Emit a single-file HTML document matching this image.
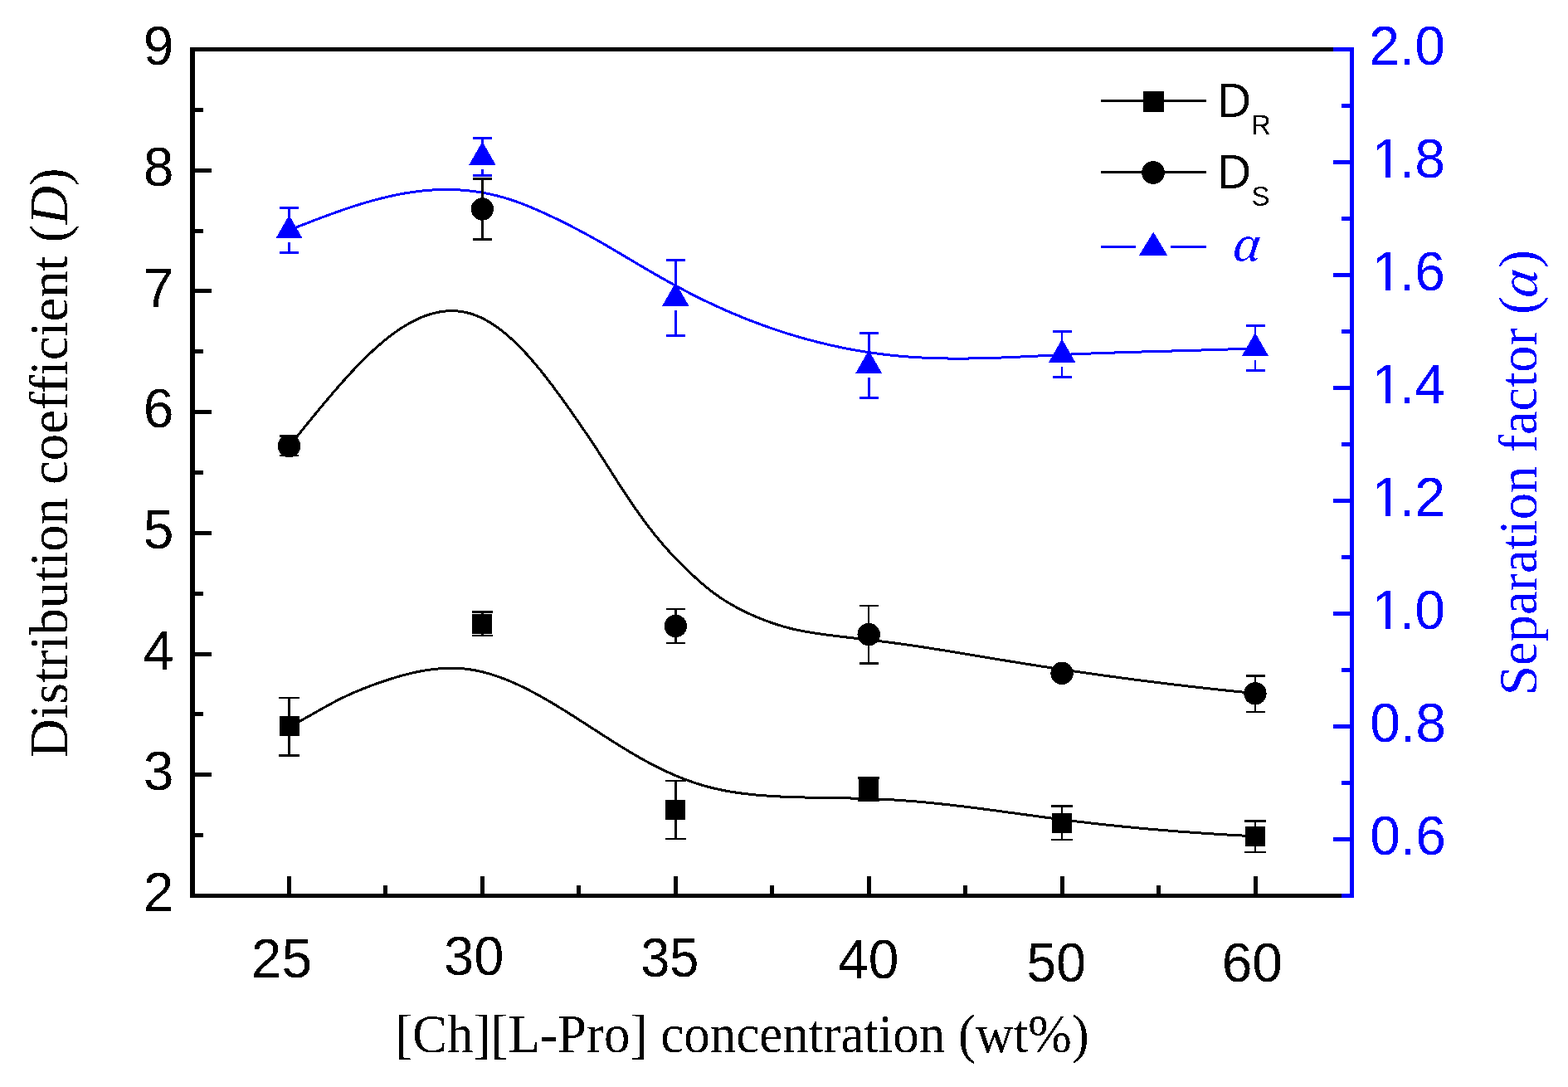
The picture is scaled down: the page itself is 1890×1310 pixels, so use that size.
<!DOCTYPE html>
<html><head><meta charset="utf-8"><title>Distribution coefficient chart</title>
<style>html,body{margin:0;padding:0;background:#fff;}svg{display:block;}</style>
</head><body>
<svg width="1890" height="1310" viewBox="0 0 1890 1310" shape-rendering="crispEdges">
<rect width="1890" height="1310" fill="#fff"/>
<defs><filter id="bin" x="-5%" y="-5%" width="110%" height="110%" color-interpolation-filters="sRGB"><feComponentTransfer><feFuncA type="discrete" tableValues="0 1"/></feComponentTransfer></filter></defs>
<path d="M348.5 875.71 L351.5 874.22 L354.5 872.70 L357.5 871.14 L360.5 869.55 L363.5 867.93 L366.5 866.29 L369.5 864.63 L372.5 862.95 L375.5 861.26 L378.5 859.56 L381.5 857.86 L384.5 856.16 L387.5 854.47 L390.5 852.79 L393.5 851.12 L396.5 849.47 L399.5 847.84 L402.5 846.24 L405.5 844.67 L408.5 843.14 L411.5 841.65 L414.5 840.19 L417.5 838.76 L420.5 837.37 L423.5 836.02 L426.5 834.70 L429.5 833.41 L432.5 832.14 L435.5 830.91 L438.5 829.71 L441.5 828.53 L444.5 827.38 L447.5 826.25 L450.5 825.15 L453.5 824.07 L456.5 823.01 L459.5 821.98 L462.5 820.96 L465.5 819.96 L468.5 818.99 L471.5 818.03 L474.5 817.10 L477.5 816.20 L480.5 815.33 L483.5 814.48 L486.5 813.66 L489.5 812.87 L492.5 812.11 L495.5 811.38 L498.5 810.69 L501.5 810.04 L504.5 809.42 L507.5 808.84 L510.5 808.29 L513.5 807.79 L516.5 807.33 L519.5 806.91 L522.5 806.53 L525.5 806.20 L528.5 805.92 L531.5 805.68 L534.5 805.49 L537.5 805.36 L540.5 805.27 L543.5 805.24 L546.5 805.25 L549.5 805.33 L552.5 805.46 L555.5 805.65 L558.5 805.89 L561.5 806.20 L564.5 806.57 L567.5 806.99 L570.5 807.48 L573.5 808.03 L576.5 808.64 L579.5 809.30 L582.5 810.03 L585.5 810.80 L588.5 811.63 L591.5 812.51 L594.5 813.44 L597.5 814.42 L600.5 815.45 L603.5 816.53 L606.5 817.65 L609.5 818.82 L612.5 820.03 L615.5 821.29 L618.5 822.58 L621.5 823.91 L624.5 825.29 L627.5 826.69 L630.5 828.14 L633.5 829.62 L636.5 831.13 L639.5 832.68 L642.5 834.25 L645.5 835.86 L648.5 837.49 L651.5 839.15 L654.5 840.84 L657.5 842.55 L660.5 844.28 L663.5 846.04 L666.5 847.82 L669.5 849.61 L672.5 851.43 L675.5 853.26 L678.5 855.11 L681.5 856.97 L684.5 858.84 L687.5 860.73 L690.5 862.63 L693.5 864.54 L696.5 866.45 L699.5 868.37 L702.5 870.30 L705.5 872.23 L708.5 874.17 L711.5 876.11 L714.5 878.05 L717.5 879.99 L720.5 881.92 L723.5 883.85 L726.5 885.78 L729.5 887.71 L732.5 889.62 L735.5 891.53 L738.5 893.43 L741.5 895.32 L744.5 897.19 L747.5 899.06 L750.5 900.90 L753.5 902.74 L756.5 904.55 L759.5 906.35 L762.5 908.13 L765.5 909.89 L768.5 911.62 L771.5 913.34 L774.5 915.03 L777.5 916.69 L780.5 918.32 L783.5 919.93 L786.5 921.51 L789.5 923.06 L792.5 924.57 L795.5 926.06 L798.5 927.52 L801.5 928.94 L804.5 930.33 L807.5 931.70 L810.5 933.02 L813.5 934.32 L816.5 935.58 L819.5 936.81 L822.5 938.00 L825.5 939.16 L828.5 940.28 L831.5 941.37 L834.5 942.42 L837.5 943.44 L840.5 944.42 L843.5 945.37 L846.5 946.27 L849.5 947.14 L852.5 947.97 L855.5 948.77 L858.5 949.53 L861.5 950.25 L864.5 950.93 L867.5 951.59 L870.5 952.21 L873.5 952.80 L876.5 953.36 L879.5 953.89 L882.5 954.39 L885.5 954.87 L888.5 955.32 L891.5 955.74 L894.5 956.14 L897.5 956.52 L900.5 956.88 L903.5 957.22 L906.5 957.53 L909.5 957.83 L912.5 958.11 L915.5 958.38 L918.5 958.62 L921.5 958.86 L924.5 959.07 L927.5 959.28 L930.5 959.46 L933.5 959.64 L936.5 959.80 L939.5 959.96 L942.5 960.10 L945.5 960.23 L948.5 960.35 L951.5 960.46 L954.5 960.57 L957.5 960.67 L960.5 960.76 L963.5 960.85 L966.5 960.93 L969.5 961.00 L972.5 961.07 L975.5 961.14 L978.5 961.20 L981.5 961.26 L984.5 961.32 L987.5 961.37 L990.5 961.42 L993.5 961.47 L996.5 961.52 L999.5 961.56 L1002.5 961.61 L1005.5 961.66 L1008.5 961.71 L1011.5 961.76 L1014.5 961.81 L1017.5 961.86 L1020.5 961.91 L1023.5 961.97 L1026.5 962.03 L1029.5 962.10 L1032.5 962.16 L1035.5 962.24 L1038.5 962.31 L1041.5 962.40 L1044.5 962.49 L1047.5 962.58 L1050.5 962.69 L1053.5 962.80 L1056.5 962.91 L1059.5 963.04 L1062.5 963.17 L1065.5 963.32 L1068.5 963.47 L1071.5 963.63 L1074.5 963.80 L1077.5 963.98 L1080.5 964.17 L1083.5 964.37 L1086.5 964.58 L1089.5 964.79 L1092.5 965.02 L1095.5 965.25 L1098.5 965.48 L1101.5 965.73 L1104.5 965.98 L1107.5 966.25 L1110.5 966.51 L1113.5 966.79 L1116.5 967.07 L1119.5 967.36 L1122.5 967.65 L1125.5 967.95 L1128.5 968.26 L1131.5 968.57 L1134.5 968.89 L1137.5 969.22 L1140.5 969.55 L1143.5 969.88 L1146.5 970.22 L1149.5 970.56 L1152.5 970.91 L1155.5 971.27 L1158.5 971.63 L1161.5 971.99 L1164.5 972.35 L1167.5 972.72 L1170.5 973.10 L1173.5 973.47 L1176.5 973.85 L1179.5 974.24 L1182.5 974.62 L1185.5 975.01 L1188.5 975.41 L1191.5 975.80 L1194.5 976.20 L1197.5 976.59 L1200.5 976.99 L1203.5 977.40 L1206.5 977.80 L1209.5 978.20 L1212.5 978.61 L1215.5 979.02 L1218.5 979.43 L1221.5 979.84 L1224.5 980.24 L1227.5 980.65 L1230.5 981.06 L1233.5 981.47 L1236.5 981.88 L1239.5 982.29 L1242.5 982.70 L1245.5 983.11 L1248.5 983.52 L1251.5 983.92 L1254.5 984.33 L1257.5 984.73 L1260.5 985.13 L1263.5 985.53 L1266.5 985.93 L1269.5 986.33 L1272.5 986.72 L1275.5 987.11 L1278.5 987.50 L1281.5 987.89 L1284.5 988.27 L1287.5 988.65 L1290.5 989.02 L1293.5 989.40 L1296.5 989.77 L1299.5 990.13 L1302.5 990.49 L1305.5 990.85 L1308.5 991.21 L1311.5 991.56 L1314.5 991.91 L1317.5 992.25 L1320.5 992.59 L1323.5 992.93 L1326.5 993.26 L1329.5 993.59 L1332.5 993.92 L1335.5 994.24 L1338.5 994.56 L1341.5 994.88 L1344.5 995.19 L1347.5 995.50 L1350.5 995.80 L1353.5 996.11 L1356.5 996.41 L1359.5 996.70 L1362.5 996.99 L1365.5 997.28 L1368.5 997.57 L1371.5 997.85 L1374.5 998.13 L1377.5 998.41 L1380.5 998.68 L1383.5 998.95 L1386.5 999.22 L1389.5 999.48 L1392.5 999.74 L1395.5 1000.00 L1398.5 1000.25 L1401.5 1000.50 L1404.5 1000.75 L1407.5 1001.00 L1410.5 1001.24 L1413.5 1001.48 L1416.5 1001.72 L1419.5 1001.95 L1422.5 1002.18 L1425.5 1002.41 L1428.5 1002.63 L1431.5 1002.85 L1434.5 1003.07 L1437.5 1003.29 L1440.5 1003.50 L1443.5 1003.71 L1446.5 1003.92 L1449.5 1004.12 L1452.5 1004.32 L1455.5 1004.52 L1458.5 1004.72 L1461.5 1004.91 L1464.5 1005.11 L1467.5 1005.29 L1470.5 1005.48 L1473.5 1005.66 L1476.5 1005.84 L1479.5 1006.02 L1482.5 1006.20 L1485.5 1006.37 L1488.5 1006.54 L1491.5 1006.71 L1494.5 1006.87 L1497.5 1007.04 L1500.5 1007.20 L1503.5 1007.36 L1506.5 1007.51 L1509.5 1007.67 L1512.5 1007.82 L1513.0 1007.84" fill="none" stroke="#000" stroke-width="3.0" stroke-linejoin="round" shape-rendering="crispEdges"/>
<path d="M348.5 537.78 L351.5 534.08 L354.5 530.38 L357.5 526.68 L360.5 522.97 L363.5 519.27 L366.5 515.57 L369.5 511.87 L372.5 508.19 L375.5 504.51 L378.5 500.84 L381.5 497.19 L384.5 493.56 L387.5 489.94 L390.5 486.34 L393.5 482.76 L396.5 479.21 L399.5 475.68 L402.5 472.18 L405.5 468.71 L408.5 465.28 L411.5 461.87 L414.5 458.51 L417.5 455.18 L420.5 451.89 L423.5 448.64 L426.5 445.44 L429.5 442.28 L432.5 439.17 L435.5 436.11 L438.5 433.10 L441.5 430.15 L444.5 427.25 L447.5 424.42 L450.5 421.64 L453.5 418.92 L456.5 416.27 L459.5 413.68 L462.5 411.17 L465.5 408.72 L468.5 406.34 L471.5 404.04 L474.5 401.81 L477.5 399.66 L480.5 397.59 L483.5 395.59 L486.5 393.68 L489.5 391.84 L492.5 390.09 L495.5 388.43 L498.5 386.85 L501.5 385.36 L504.5 383.97 L507.5 382.66 L510.5 381.44 L513.5 380.32 L516.5 379.30 L519.5 378.37 L522.5 377.54 L525.5 376.82 L528.5 376.19 L531.5 375.67 L534.5 375.25 L537.5 374.95 L540.5 374.74 L543.5 374.65 L546.5 374.67 L549.5 374.81 L552.5 375.05 L555.5 375.42 L558.5 375.90 L561.5 376.50 L564.5 377.22 L567.5 378.06 L570.5 379.02 L573.5 380.11 L576.5 381.33 L579.5 382.66 L582.5 384.12 L585.5 385.69 L588.5 387.38 L591.5 389.18 L594.5 391.10 L597.5 393.12 L600.5 395.26 L603.5 397.50 L606.5 399.85 L609.5 402.29 L612.5 404.85 L615.5 407.50 L618.5 410.24 L621.5 413.09 L624.5 416.03 L627.5 419.06 L630.5 422.18 L633.5 425.39 L636.5 428.69 L639.5 432.06 L642.5 435.52 L645.5 439.06 L648.5 442.66 L651.5 446.34 L654.5 450.08 L657.5 453.88 L660.5 457.75 L663.5 461.67 L666.5 465.64 L669.5 469.67 L672.5 473.74 L675.5 477.85 L678.5 482.00 L681.5 486.19 L684.5 490.42 L687.5 494.67 L690.5 498.95 L693.5 503.25 L696.5 507.58 L699.5 511.92 L702.5 516.30 L705.5 520.70 L708.5 525.13 L711.5 529.60 L714.5 534.10 L717.5 538.64 L720.5 543.21 L723.5 547.83 L726.5 552.49 L729.5 557.17 L732.5 561.89 L735.5 566.61 L738.5 571.33 L741.5 576.04 L744.5 580.73 L747.5 585.40 L750.5 590.02 L753.5 594.59 L756.5 599.11 L759.5 603.57 L762.5 607.98 L765.5 612.32 L768.5 616.60 L771.5 620.82 L774.5 624.97 L777.5 629.06 L780.5 633.07 L783.5 637.00 L786.5 640.86 L789.5 644.65 L792.5 648.35 L795.5 651.97 L798.5 655.50 L801.5 658.95 L804.5 662.32 L807.5 665.62 L810.5 668.85 L813.5 672.02 L816.5 675.13 L819.5 678.18 L822.5 681.18 L825.5 684.14 L828.5 687.06 L831.5 689.93 L834.5 692.76 L837.5 695.54 L840.5 698.26 L843.5 700.93 L846.5 703.53 L849.5 706.07 L852.5 708.54 L855.5 710.93 L858.5 713.24 L861.5 715.47 L864.5 717.62 L867.5 719.70 L870.5 721.71 L873.5 723.64 L876.5 725.51 L879.5 727.32 L882.5 729.07 L885.5 730.76 L888.5 732.39 L891.5 733.97 L894.5 735.50 L897.5 736.99 L900.5 738.43 L903.5 739.82 L906.5 741.18 L909.5 742.49 L912.5 743.77 L915.5 745.01 L918.5 746.22 L921.5 747.39 L924.5 748.52 L927.5 749.61 L930.5 750.67 L933.5 751.69 L936.5 752.67 L939.5 753.61 L942.5 754.52 L945.5 755.38 L948.5 756.21 L951.5 756.99 L954.5 757.74 L957.5 758.45 L960.5 759.12 L963.5 759.75 L966.5 760.35 L969.5 760.92 L972.5 761.46 L975.5 761.98 L978.5 762.47 L981.5 762.95 L984.5 763.40 L987.5 763.83 L990.5 764.26 L993.5 764.67 L996.5 765.06 L999.5 765.46 L1002.5 765.84 L1005.5 766.22 L1008.5 766.59 L1011.5 766.95 L1014.5 767.31 L1017.5 767.67 L1020.5 768.02 L1023.5 768.37 L1026.5 768.72 L1029.5 769.06 L1032.5 769.41 L1035.5 769.75 L1038.5 770.09 L1041.5 770.44 L1044.5 770.79 L1047.5 771.13 L1050.5 771.48 L1053.5 771.84 L1056.5 772.20 L1059.5 772.56 L1062.5 772.93 L1065.5 773.30 L1068.5 773.68 L1071.5 774.07 L1074.5 774.46 L1077.5 774.86 L1080.5 775.26 L1083.5 775.67 L1086.5 776.09 L1089.5 776.51 L1092.5 776.93 L1095.5 777.36 L1098.5 777.80 L1101.5 778.24 L1104.5 778.68 L1107.5 779.13 L1110.5 779.58 L1113.5 780.03 L1116.5 780.49 L1119.5 780.95 L1122.5 781.42 L1125.5 781.89 L1128.5 782.36 L1131.5 782.84 L1134.5 783.32 L1137.5 783.80 L1140.5 784.28 L1143.5 784.76 L1146.5 785.25 L1149.5 785.74 L1152.5 786.23 L1155.5 786.72 L1158.5 787.22 L1161.5 787.71 L1164.5 788.21 L1167.5 788.71 L1170.5 789.21 L1173.5 789.71 L1176.5 790.21 L1179.5 790.71 L1182.5 791.21 L1185.5 791.71 L1188.5 792.21 L1191.5 792.71 L1194.5 793.21 L1197.5 793.71 L1200.5 794.20 L1203.5 794.70 L1206.5 795.20 L1209.5 795.69 L1212.5 796.18 L1215.5 796.68 L1218.5 797.17 L1221.5 797.65 L1224.5 798.14 L1227.5 798.62 L1230.5 799.11 L1233.5 799.59 L1236.5 800.07 L1239.5 800.54 L1242.5 801.02 L1245.5 801.49 L1248.5 801.96 L1251.5 802.43 L1254.5 802.89 L1257.5 803.36 L1260.5 803.82 L1263.5 804.28 L1266.5 804.74 L1269.5 805.20 L1272.5 805.65 L1275.5 806.10 L1278.5 806.55 L1281.5 807.00 L1284.5 807.45 L1287.5 807.90 L1290.5 808.34 L1293.5 808.78 L1296.5 809.22 L1299.5 809.65 L1302.5 810.09 L1305.5 810.52 L1308.5 810.95 L1311.5 811.38 L1314.5 811.81 L1317.5 812.23 L1320.5 812.66 L1323.5 813.08 L1326.5 813.50 L1329.5 813.91 L1332.5 814.33 L1335.5 814.74 L1338.5 815.15 L1341.5 815.56 L1344.5 815.97 L1347.5 816.38 L1350.5 816.78 L1353.5 817.18 L1356.5 817.58 L1359.5 817.98 L1362.5 818.37 L1365.5 818.76 L1368.5 819.16 L1371.5 819.55 L1374.5 819.93 L1377.5 820.32 L1380.5 820.70 L1383.5 821.08 L1386.5 821.46 L1389.5 821.84 L1392.5 822.21 L1395.5 822.59 L1398.5 822.96 L1401.5 823.33 L1404.5 823.70 L1407.5 824.06 L1410.5 824.42 L1413.5 824.79 L1416.5 825.15 L1419.5 825.50 L1422.5 825.86 L1425.5 826.21 L1428.5 826.56 L1431.5 826.91 L1434.5 827.26 L1437.5 827.61 L1440.5 827.95 L1443.5 828.29 L1446.5 828.63 L1449.5 828.97 L1452.5 829.30 L1455.5 829.64 L1458.5 829.97 L1461.5 830.30 L1464.5 830.62 L1467.5 830.95 L1470.5 831.27 L1473.5 831.59 L1476.5 831.91 L1479.5 832.23 L1482.5 832.55 L1485.5 832.86 L1488.5 833.17 L1491.5 833.48 L1494.5 833.79 L1497.5 834.09 L1500.5 834.39 L1503.5 834.70 L1506.5 835.00 L1509.5 835.29 L1512.5 835.59 L1513.0 835.64" fill="none" stroke="#000" stroke-width="3.0" stroke-linejoin="round" shape-rendering="crispEdges"/>
<path d="M348.5 277.41 L351.5 276.22 L354.5 275.03 L357.5 273.85 L360.5 272.67 L363.5 271.49 L366.5 270.31 L369.5 269.14 L372.5 267.98 L375.5 266.82 L378.5 265.67 L381.5 264.52 L384.5 263.38 L387.5 262.25 L390.5 261.13 L393.5 260.02 L396.5 258.92 L399.5 257.83 L402.5 256.74 L405.5 255.68 L408.5 254.62 L411.5 253.57 L414.5 252.54 L417.5 251.52 L420.5 250.52 L423.5 249.53 L426.5 248.56 L429.5 247.60 L432.5 246.66 L435.5 245.74 L438.5 244.83 L441.5 243.94 L444.5 243.07 L447.5 242.22 L450.5 241.39 L453.5 240.59 L456.5 239.80 L459.5 239.03 L462.5 238.29 L465.5 237.57 L468.5 236.87 L471.5 236.20 L474.5 235.55 L477.5 234.92 L480.5 234.32 L483.5 233.75 L486.5 233.21 L489.5 232.69 L492.5 232.20 L495.5 231.74 L498.5 231.30 L501.5 230.90 L504.5 230.53 L507.5 230.18 L510.5 229.87 L513.5 229.59 L516.5 229.33 L519.5 229.11 L522.5 228.92 L525.5 228.77 L528.5 228.64 L531.5 228.55 L534.5 228.49 L537.5 228.47 L540.5 228.48 L543.5 228.52 L546.5 228.60 L549.5 228.71 L552.5 228.86 L555.5 229.04 L558.5 229.26 L561.5 229.52 L564.5 229.81 L567.5 230.14 L570.5 230.50 L573.5 230.90 L576.5 231.34 L579.5 231.82 L582.5 232.34 L585.5 232.90 L588.5 233.50 L591.5 234.13 L594.5 234.81 L597.5 235.52 L600.5 236.28 L603.5 237.08 L606.5 237.92 L609.5 238.80 L612.5 239.72 L615.5 240.68 L618.5 241.68 L621.5 242.72 L624.5 243.79 L627.5 244.90 L630.5 246.04 L633.5 247.21 L636.5 248.41 L639.5 249.64 L642.5 250.89 L645.5 252.18 L648.5 253.48 L651.5 254.81 L654.5 256.16 L657.5 257.53 L660.5 258.92 L663.5 260.33 L666.5 261.75 L669.5 263.19 L672.5 264.65 L675.5 266.11 L678.5 267.60 L681.5 269.10 L684.5 270.61 L687.5 272.14 L690.5 273.68 L693.5 275.24 L696.5 276.81 L699.5 278.39 L702.5 280.00 L705.5 281.61 L708.5 283.24 L711.5 284.88 L714.5 286.54 L717.5 288.22 L720.5 289.90 L723.5 291.60 L726.5 293.32 L729.5 295.05 L732.5 296.78 L735.5 298.53 L738.5 300.29 L741.5 302.06 L744.5 303.83 L747.5 305.60 L750.5 307.39 L753.5 309.17 L756.5 310.95 L759.5 312.74 L762.5 314.53 L765.5 316.31 L768.5 318.09 L771.5 319.87 L774.5 321.64 L777.5 323.40 L780.5 325.16 L783.5 326.90 L786.5 328.64 L789.5 330.37 L792.5 332.09 L795.5 333.80 L798.5 335.49 L801.5 337.18 L804.5 338.86 L807.5 340.52 L810.5 342.17 L813.5 343.81 L816.5 345.43 L819.5 347.04 L822.5 348.64 L825.5 350.22 L828.5 351.79 L831.5 353.34 L834.5 354.88 L837.5 356.40 L840.5 357.91 L843.5 359.40 L846.5 360.87 L849.5 362.33 L852.5 363.78 L855.5 365.20 L858.5 366.62 L861.5 368.01 L864.5 369.39 L867.5 370.76 L870.5 372.11 L873.5 373.44 L876.5 374.76 L879.5 376.06 L882.5 377.35 L885.5 378.62 L888.5 379.88 L891.5 381.12 L894.5 382.34 L897.5 383.55 L900.5 384.74 L903.5 385.92 L906.5 387.09 L909.5 388.23 L912.5 389.37 L915.5 390.48 L918.5 391.59 L921.5 392.67 L924.5 393.74 L927.5 394.80 L930.5 395.84 L933.5 396.87 L936.5 397.88 L939.5 398.87 L942.5 399.85 L945.5 400.81 L948.5 401.76 L951.5 402.70 L954.5 403.62 L957.5 404.52 L960.5 405.41 L963.5 406.28 L966.5 407.14 L969.5 407.99 L972.5 408.82 L975.5 409.63 L978.5 410.43 L981.5 411.21 L984.5 411.98 L987.5 412.73 L990.5 413.47 L993.5 414.20 L996.5 414.90 L999.5 415.60 L1002.5 416.28 L1005.5 416.94 L1008.5 417.59 L1011.5 418.23 L1014.5 418.85 L1017.5 419.45 L1020.5 420.04 L1023.5 420.62 L1026.5 421.18 L1029.5 421.73 L1032.5 422.26 L1035.5 422.77 L1038.5 423.28 L1041.5 423.76 L1044.5 424.24 L1047.5 424.70 L1050.5 425.14 L1053.5 425.57 L1056.5 425.98 L1059.5 426.38 L1062.5 426.77 L1065.5 427.14 L1068.5 427.50 L1071.5 427.84 L1074.5 428.17 L1077.5 428.48 L1080.5 428.78 L1083.5 429.06 L1086.5 429.33 L1089.5 429.59 L1092.5 429.83 L1095.5 430.06 L1098.5 430.27 L1101.5 430.47 L1104.5 430.66 L1107.5 430.84 L1110.5 431.00 L1113.5 431.15 L1116.5 431.29 L1119.5 431.41 L1122.5 431.53 L1125.5 431.63 L1128.5 431.72 L1131.5 431.80 L1134.5 431.87 L1137.5 431.93 L1140.5 431.98 L1143.5 432.02 L1146.5 432.05 L1149.5 432.07 L1152.5 432.08 L1155.5 432.09 L1158.5 432.08 L1161.5 432.07 L1164.5 432.04 L1167.5 432.01 L1170.5 431.98 L1173.5 431.93 L1176.5 431.88 L1179.5 431.82 L1182.5 431.75 L1185.5 431.68 L1188.5 431.60 L1191.5 431.52 L1194.5 431.43 L1197.5 431.33 L1200.5 431.23 L1203.5 431.13 L1206.5 431.02 L1209.5 430.90 L1212.5 430.78 L1215.5 430.66 L1218.5 430.54 L1221.5 430.41 L1224.5 430.27 L1227.5 430.14 L1230.5 430.00 L1233.5 429.86 L1236.5 429.72 L1239.5 429.57 L1242.5 429.42 L1245.5 429.28 L1248.5 429.13 L1251.5 428.98 L1254.5 428.83 L1257.5 428.68 L1260.5 428.53 L1263.5 428.37 L1266.5 428.22 L1269.5 428.07 L1272.5 427.92 L1275.5 427.78 L1278.5 427.63 L1281.5 427.48 L1284.5 427.34 L1287.5 427.20 L1290.5 427.06 L1293.5 426.92 L1296.5 426.79 L1299.5 426.66 L1302.5 426.53 L1305.5 426.41 L1308.5 426.28 L1311.5 426.16 L1314.5 426.04 L1317.5 425.93 L1320.5 425.81 L1323.5 425.70 L1326.5 425.59 L1329.5 425.48 L1332.5 425.38 L1335.5 425.27 L1338.5 425.17 L1341.5 425.07 L1344.5 424.97 L1347.5 424.88 L1350.5 424.78 L1353.5 424.69 L1356.5 424.59 L1359.5 424.50 L1362.5 424.41 L1365.5 424.32 L1368.5 424.23 L1371.5 424.15 L1374.5 424.06 L1377.5 423.97 L1380.5 423.89 L1383.5 423.80 L1386.5 423.72 L1389.5 423.64 L1392.5 423.56 L1395.5 423.47 L1398.5 423.39 L1401.5 423.31 L1404.5 423.23 L1407.5 423.15 L1410.5 423.07 L1413.5 422.98 L1416.5 422.90 L1419.5 422.82 L1422.5 422.74 L1425.5 422.66 L1428.5 422.57 L1431.5 422.49 L1434.5 422.41 L1437.5 422.32 L1440.5 422.24 L1443.5 422.15 L1446.5 422.06 L1449.5 421.98 L1452.5 421.89 L1455.5 421.80 L1458.5 421.71 L1461.5 421.62 L1464.5 421.52 L1467.5 421.43 L1470.5 421.33 L1473.5 421.23 L1476.5 421.13 L1479.5 421.03 L1482.5 420.93 L1485.5 420.83 L1488.5 420.72 L1491.5 420.61 L1494.5 420.50 L1497.5 420.39 L1500.5 420.27 L1503.5 420.16 L1506.5 420.04 L1509.5 419.92 L1512.5 419.79 L1513.0 419.77" fill="none" stroke="#0000ff" stroke-width="3.0" stroke-linejoin="round" shape-rendering="crispEdges"/>
<path d="M348.5 841.0V910.5" stroke="#000" stroke-width="2.5" fill="none"/><path d="M335.7 841.0H361.3M335.7 910.5H361.3" stroke="#000" stroke-width="2.3" fill="none"/>
<rect x="336.5" y="863.3" width="24" height="24" fill="#000"/>
<path d="M581.4 737.4V766.0" stroke="#000" stroke-width="2.5" fill="none"/><path d="M568.6 737.4H594.2M568.6 766.0H594.2" stroke="#000" stroke-width="2.3" fill="none"/>
<rect x="569.4" y="739.6" width="24" height="24" fill="#000"/>
<path d="M814.3 941.0V1011.0" stroke="#000" stroke-width="2.5" fill="none"/><path d="M801.5 941.0H827.1M801.5 1011.0H827.1" stroke="#000" stroke-width="2.3" fill="none"/>
<rect x="802.3" y="963.9" width="24" height="24" fill="#000"/>
<path d="M1047.2 937.5V965.2" stroke="#000" stroke-width="2.5" fill="none"/><path d="M1034.4 937.5H1060.0M1034.4 965.2H1060.0" stroke="#000" stroke-width="2.3" fill="none"/>
<rect x="1035.2" y="939.2" width="24" height="24" fill="#000"/>
<path d="M1280.1 971.6V1012.3" stroke="#000" stroke-width="2.5" fill="none"/><path d="M1267.3 971.6H1292.9M1267.3 1012.3H1292.9" stroke="#000" stroke-width="2.3" fill="none"/>
<rect x="1268.1" y="980.0" width="24" height="24" fill="#000"/>
<path d="M1513.0 989.6V1027.1" stroke="#000" stroke-width="2.5" fill="none"/><path d="M1500.2 989.6H1525.8M1500.2 1027.1H1525.8" stroke="#000" stroke-width="2.3" fill="none"/>
<rect x="1501.0" y="995.6" width="24" height="24" fill="#000"/>
<path d="M348.5 525.5V549.3" stroke="#000" stroke-width="2.5" fill="none"/><path d="M337.0 525.5H360.0M337.0 549.3H360.0" stroke="#000" stroke-width="2.3" fill="none"/>
<circle cx="348.5" cy="537.5" r="13.7" fill="#000"/>
<path d="M581.4 215.5V288.4" stroke="#000" stroke-width="2.5" fill="none"/><path d="M569.9 215.5H592.9M569.9 288.4H592.9" stroke="#000" stroke-width="2.3" fill="none"/>
<circle cx="581.4" cy="252.0" r="13.7" fill="#000"/>
<path d="M814.3 734.0V775.0" stroke="#000" stroke-width="2.5" fill="none"/><path d="M802.8 734.0H825.8M802.8 775.0H825.8" stroke="#000" stroke-width="2.3" fill="none"/>
<circle cx="814.3" cy="754.5" r="13.7" fill="#000"/>
<path d="M1047.2 730.0V799.4" stroke="#000" stroke-width="2.5" fill="none"/><path d="M1035.7 730.0H1058.7M1035.7 799.4H1058.7" stroke="#000" stroke-width="2.3" fill="none"/>
<circle cx="1047.2" cy="764.6" r="13.7" fill="#000"/>

<circle cx="1280.1" cy="811.4" r="13.7" fill="#000"/>
<path d="M1513.0 814.5V857.7" stroke="#000" stroke-width="2.5" fill="none"/><path d="M1501.5 814.5H1524.5M1501.5 857.7H1524.5" stroke="#000" stroke-width="2.3" fill="none"/>
<circle cx="1513.0" cy="835.8" r="13.7" fill="#000"/>
<path d="M348.5 250.6V263.1M348.5 292.1V304.6" stroke="#0000ff" stroke-width="2.6" fill="none"/><path d="M337.0 250.6H360.0M337.0 304.6H360.0" stroke="#0000ff" stroke-width="3.0" fill="none"/>
<path d="M332.5 287.1L364.5 287.1L348.5 259.1Z" fill="#0000ff"/>
<path d="M581.4 166.5V174.5M581.4 203.5V211.4" stroke="#0000ff" stroke-width="2.6" fill="none"/><path d="M569.9 166.5H592.9M569.9 211.4H592.9" stroke="#0000ff" stroke-width="3.0" fill="none"/>
<path d="M565.4 198.5L597.4 198.5L581.4 170.5Z" fill="#0000ff"/>
<path d="M814.3 313.4V344.5M814.3 373.5V404.6" stroke="#0000ff" stroke-width="2.6" fill="none"/><path d="M802.8 313.4H825.8M802.8 404.6H825.8" stroke="#0000ff" stroke-width="3.0" fill="none"/>
<path d="M798.3 368.5L830.3 368.5L814.3 340.5Z" fill="#0000ff"/>
<path d="M1047.2 401.5V426.0M1047.2 455.0V479.5" stroke="#0000ff" stroke-width="2.6" fill="none"/><path d="M1035.7 401.5H1058.7M1035.7 479.5H1058.7" stroke="#0000ff" stroke-width="3.0" fill="none"/>
<path d="M1031.2 450.0L1063.2 450.0L1047.2 422.0Z" fill="#0000ff"/>
<path d="M1280.1 399.5V412.5M1280.1 441.5V454.5" stroke="#0000ff" stroke-width="2.6" fill="none"/><path d="M1268.6 399.5H1291.6M1268.6 454.5H1291.6" stroke="#0000ff" stroke-width="3.0" fill="none"/>
<path d="M1264.1 436.5L1296.1 436.5L1280.1 408.5Z" fill="#0000ff"/>
<path d="M1513.0 392.5V404.9M1513.0 433.9V446.4" stroke="#0000ff" stroke-width="2.6" fill="none"/><path d="M1501.5 392.5H1524.5M1501.5 446.4H1524.5" stroke="#0000ff" stroke-width="3.0" fill="none"/>
<path d="M1497.0 428.9L1529.0 428.9L1513.0 400.9Z" fill="#0000ff"/>
<path d="M235 1079.50H254.5M235 933.79H254.5M235 788.07H254.5M235 642.36H254.5M235 496.64H254.5M235 350.93H254.5M235 205.21H254.5M235 59.50H254.5M235 1006.64H244.5M235 860.93H244.5M235 715.21H244.5M235 569.50H244.5M235 423.79H244.5M235 278.07H244.5M235 132.36H244.5M348.50 1077V1056M581.40 1077V1056M814.30 1077V1056M1047.20 1077V1056M1280.10 1077V1056M1513.00 1077V1056M232.05 1077V1066.5M464.95 1077V1066.5M697.85 1077V1066.5M930.75 1077V1066.5M1163.65 1077V1066.5M1396.55 1077V1066.5M1629.45 1077V1066.5" stroke="#000" stroke-width="5" fill="none"/>
<path d="M1627 1011.50H1606.8M1627 875.50H1606.8M1627 739.50H1606.8M1627 603.50H1606.8M1627 467.50H1606.8M1627 331.50H1606.8M1627 195.50H1606.8M1627 59.50H1606.8M1627 1079.50H1616.8M1627 943.50H1616.8M1627 807.50H1616.8M1627 671.50H1616.8M1627 535.50H1616.8M1627 399.50H1616.8M1627 263.50H1616.8M1627 127.50H1616.8" stroke="#0000ff" stroke-width="5" fill="none"/>
<path d="M229 59.5H1607M229 1079.5H1617" stroke="#000" stroke-width="5" fill="none"/>
<path d="M232 57V1082" stroke="#000" stroke-width="6" fill="none"/>
<path d="M1629.5 57V1082" stroke="#0000ff" stroke-width="5" fill="none"/>
<g filter="url(#bin)">
<g style="font-family:'Liberation Sans',Arial,sans-serif;font-size:66px" text-anchor="end">
<text x="209.5" y="1098.1">2</text>
<text x="209.5" y="952.4">3</text>
<text x="209.5" y="806.7">4</text>
<text x="209.5" y="661.0">5</text>
<text x="209.5" y="515.2">6</text>
<text x="209.5" y="369.5">7</text>
<text x="209.5" y="223.8">8</text>
<text x="209.5" y="78.1">9</text>
</g>
<g style="font-family:'Liberation Sans',Arial,sans-serif;font-size:66px" fill="#0000ff">
<text x="1743" y="1030.1" text-anchor="end">0.6</text>
<text x="1743" y="894.1" text-anchor="end">0.8</text>
<clipPath id="one10"><rect x="1651.5" y="698.1" width="40" height="54.8"/><rect x="1669.8" y="752.1" width="6.4" height="8"/></clipPath>
<text x="1653.5" y="758.1" clip-path="url(#one10)">1</text>
<text x="1742" y="758.1" text-anchor="end">.0</text>
<clipPath id="one12"><rect x="1651.5" y="562.1" width="40" height="54.8"/><rect x="1669.8" y="616.1" width="6.4" height="8"/></clipPath>
<text x="1653.5" y="622.1" clip-path="url(#one12)">1</text>
<text x="1742" y="622.1" text-anchor="end">.2</text>
<clipPath id="one14"><rect x="1651.5" y="426.1" width="40" height="54.8"/><rect x="1669.8" y="480.1" width="6.4" height="8"/></clipPath>
<text x="1653.5" y="486.1" clip-path="url(#one14)">1</text>
<text x="1742" y="486.1" text-anchor="end">.4</text>
<clipPath id="one16"><rect x="1651.5" y="290.1" width="40" height="54.8"/><rect x="1669.8" y="344.1" width="6.4" height="8"/></clipPath>
<text x="1653.5" y="350.1" clip-path="url(#one16)">1</text>
<text x="1742" y="350.1" text-anchor="end">.6</text>
<clipPath id="one18"><rect x="1651.5" y="154.1" width="40" height="54.8"/><rect x="1669.8" y="208.1" width="6.4" height="8"/></clipPath>
<text x="1653.5" y="214.1" clip-path="url(#one18)">1</text>
<text x="1742" y="214.1" text-anchor="end">.8</text>
<text x="1742" y="78.1" text-anchor="end">2.0</text>
</g>
<g style="font-family:'Liberation Sans',Arial,sans-serif;font-size:66px">
<text x="302.68" y="1178.4">25</text>
<text transform="translate(535.07,1175.4) scale(0.9853,1)">30</text>
<text transform="translate(772.16,1177.4) scale(0.9559,1)">35</text>
<text x="1010.0" y="1179.4">40</text>
<text transform="translate(1237.43,1182.6) scale(0.9735,1)">50</text>
<text x="1472.65" y="1183.4">60</text>
</g>
<text style="font-family:'Liberation Serif','Times New Roman',serif;font-size:65px" transform="translate(476,1267.5) scale(0.97,1)">[Ch][L-Pro] concentration (wt%)</text>
<text style="font-family:'Liberation Serif','Times New Roman',serif;font-size:65px" transform="translate(81,913) rotate(-90) scale(0.996,1)">Distribution coefficient (<tspan font-style="italic">D</tspan>)</text>
<text style="font-family:'Liberation Serif','Times New Roman',serif;font-size:65px" fill="#0000ff" transform="translate(1852,838) rotate(-90) scale(0.994,1)">Separation factor (<tspan style="font-family:'Noto Serif CJK SC','Liberation Serif',serif;font-style:italic;font-weight:600;font-size:55px" dx="-5" dy="0">&#945;</tspan><tspan dx="5" dy="0">)</tspan></text>
<path d="M1327 121H1453.5M1327 207.5H1453.5" stroke="#000" stroke-width="3" fill="none"/>
<path d="M1327 297.2H1368.8M1411 297.2H1453.5" stroke="#0000ff" stroke-width="3" fill="none"/>
<rect x="1378" y="110.2" width="25" height="24.6" fill="#000"/>
<circle cx="1390" cy="208" r="13.8" fill="#000"/>
<path d="M1373 308L1407.3 308L1390.2 279.4Z" fill="#0000ff"/>
<text style="font-family:'Liberation Sans',Arial,sans-serif;font-size:57px" x="1467" y="141">D</text>
<text style="font-family:'Liberation Sans',Arial,sans-serif;font-size:33px" x="1508" y="162">R</text>
<text style="font-family:'Liberation Sans',Arial,sans-serif;font-size:57px" x="1467" y="227">D</text>
<text style="font-family:'Liberation Sans',Arial,sans-serif;font-size:33px" x="1508.5" y="247.7">S</text>
<text style="font-family:'Noto Serif CJK SC','Liberation Serif',serif;font-size:53px;font-style:italic;font-weight:600" fill="#0000ff" x="1483" y="314">&#945;</text>
</g>
</svg>
</body></html>
